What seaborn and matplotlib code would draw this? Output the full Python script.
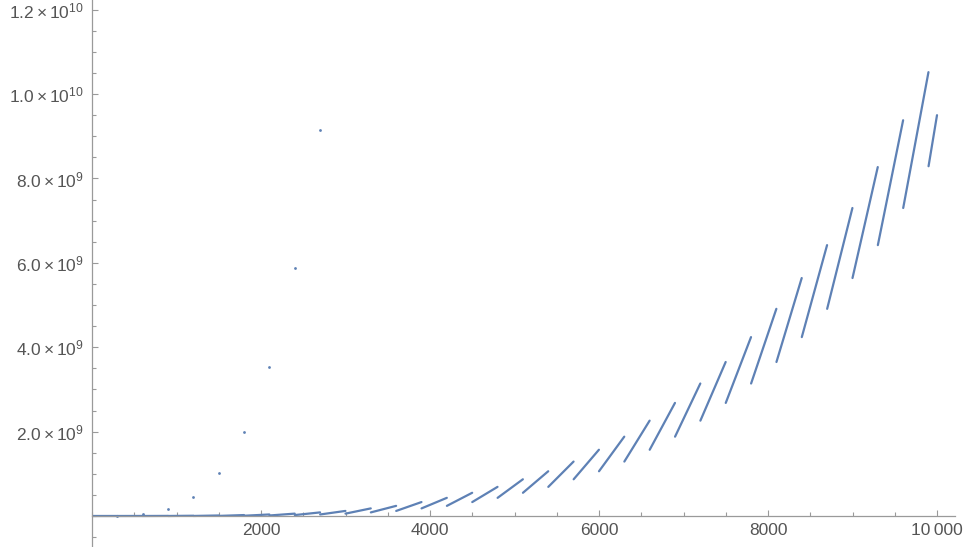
import numpy as np
import pandas as pd
import matplotlib
matplotlib.use("Agg")
import matplotlib.pyplot as plt
from matplotlib.ticker import MultipleLocator, FixedLocator, FixedFormatter
import seaborn as sns

sns.set_style("white")
plt.rcParams['font.family'] = ['Liberation Sans', 'DejaVu Sans']
plt.rcParams['mathtext.fontset'] = 'custom'
plt.rcParams['mathtext.rm'] = 'Liberation Sans'
plt.rcParams['mathtext.it'] = 'Liberation Sans'

# ---- data ----
# each run of points starts at a multiple of 300 and climbs until the next one
seg_x_start = [0, 300, 600, 900, 1200, 1500, 1800, 2100, 2400, 2700, 3000, 3300,
               3600, 3900, 4200, 4500, 4800, 5100, 5400, 5700, 6000, 6300, 6600,
               6900, 7200, 7500, 7800, 8100, 8400, 8700, 9000, 9300, 9600, 9900]
seg_x_end = [299, 599, 899, 1199, 1499, 1799, 2099, 2399, 2699, 2999, 3299, 3599,
             3899, 4199, 4499, 4799, 5099, 5399, 5699, 5999, 6299, 6599, 6899,
             7199, 7499, 7799, 8099, 8399, 8699, 8999, 9299, 9599, 9899, 10000]
# values in units of 1e9
seg_y_start = [0.0, 0.0, 0.0001, 0.0003, 0.0008, 0.002, 0.006, 0.012, 0.022, 0.036,
               0.056, 0.085, 0.12, 0.18, 0.24, 0.33, 0.43, 0.55, 0.69, 0.87, 1.06,
               1.29, 1.57, 1.88, 2.26, 2.68, 3.14, 3.65, 4.24, 4.91, 5.64, 6.42,
               7.30, 8.29]
seg_y_end = [0.0003, 0.0008, 0.002, 0.006, 0.012, 0.022, 0.036, 0.056, 0.085, 0.12,
             0.18, 0.24, 0.33, 0.43, 0.55, 0.69, 0.87, 1.06, 1.29, 1.57, 1.88, 2.26,
             2.68, 3.14, 3.65, 4.24, 4.91, 5.64, 6.42, 7.30, 8.27, 9.38, 10.52, 9.50]

# lone points sitting above the runs (the rest are off the top)
spike_x = [300, 600, 900, 1200, 1500, 1800, 2100, 2400, 2700]
spike_y = [0.01, 0.05, 0.17, 0.46, 1.03, 2.00, 3.54, 5.87, 9.16]

xticks = [2000, 4000, 6000, 8000, 10000]
xtick_labels = ["2000", "4000", "6000", "8000", "10\u2009000"]
yticks = [2e9, 4e9, 6e9, 8e9, 1e10, 1.2e10]
ytick_labels = [r"$\mathrm{2.0\times10^{9}}$", r"$\mathrm{4.0\times10^{9}}$",
                r"$\mathrm{6.0\times10^{9}}$", r"$\mathrm{8.0\times10^{9}}$",
                r"$\mathrm{1.0\times10^{10}}$", r"$\mathrm{1.2\times10^{10}}$"]

# build long table for the runs
rows = []
for i in range(len(seg_x_start)):
    rows.append((seg_x_start[i], seg_y_start[i] * 1e9, i))
    rows.append((seg_x_end[i], seg_y_end[i] * 1e9, i))
runs = pd.DataFrame(rows, columns=["x", "y", "seg"])
spikes = pd.DataFrame({"x": spike_x, "y": np.array(spike_y) * 1e9})

blue = "#5E81B5"
axis_col = "#9a9a9a"
text_col = "#555555"

fig = plt.figure(figsize=(9.66, 5.47), dpi=100)
ax = fig.add_axes([92 / 966, 0, (955 - 92) / 966, 1])

sns.lineplot(data=runs, x="x", y="y", units="seg", estimator=None,
             color=blue, lw=1.6, ax=ax, legend=False)
sns.scatterplot(data=spikes, x="x", y="y", color=blue, s=4, linewidth=0, ax=ax)

ax.set_xlim(0, 10213)
ax.set_ylim(-0.735e9, 12.23e9)

for s in ["top", "right"]:
    ax.spines[s].set_visible(False)
ax.spines["bottom"].set_position(("data", 0))
ax.spines["left"].set_position(("data", 0))
for s in ["bottom", "left"]:
    ax.spines[s].set_color(axis_col)
    ax.spines[s].set_linewidth(0.9)

ax.xaxis.set_major_locator(FixedLocator(xticks))
ax.xaxis.set_major_formatter(FixedFormatter(xtick_labels))
ax.xaxis.set_minor_locator(MultipleLocator(500))
ax.yaxis.set_major_locator(FixedLocator(yticks))
ax.yaxis.set_major_formatter(FixedFormatter(ytick_labels))
ax.yaxis.set_minor_locator(MultipleLocator(0.5e9))

ax.tick_params(which="both", direction="in", color=axis_col, width=0.8,
               labelcolor=text_col, labelsize=12.5)
ax.tick_params(which="major", length=4.5)
ax.tick_params(which="minor", length=2.8)
ax.tick_params(axis="x", pad=5)
ax.tick_params(axis="y", pad=6)
ax.tick_params(axis="x", which="both", bottom=True)
ax.tick_params(axis="y", which="both", left=True)

ax.set_xlabel("")
ax.set_ylabel("")
for lab in ax.get_xticklabels() + ax.get_yticklabels():
    lab.set_clip_on(False)

fig.savefig("out.png", dpi=100)
